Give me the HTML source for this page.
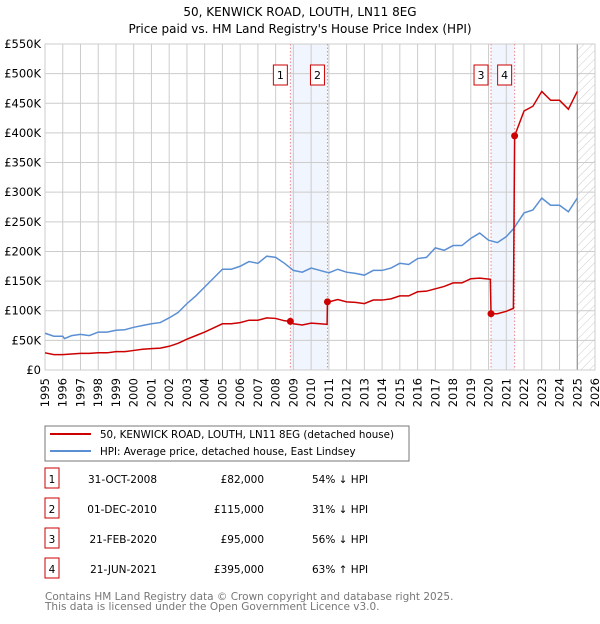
<!DOCTYPE html>
<html><head><meta charset="utf-8"><style>
body{margin:0;background:#fff;font-family:"DejaVu Sans","Liberation Sans",sans-serif;}
svg text{font-family:"DejaVu Sans","Liberation Sans",sans-serif;}
</style></head><body>
<svg id="c" width="600" height="620" xmlns="http://www.w3.org/2000/svg">
<defs><pattern id="h" width="6" height="6" patternUnits="userSpaceOnUse" patternTransform="rotate(45)"><line x1="0" y1="0" x2="0" y2="6" stroke="#ccc" stroke-width="1"/></pattern></defs>
<text x="300" y="16" text-anchor="middle" font-size="12">50, KENWICK ROAD, LOUTH, LN11 8EG</text>
<text x="300" y="33" text-anchor="middle" font-size="12">Price paid vs. HM Land Registry's House Price Index (HPI)</text>
<g id="plot"></g>
<rect x="45" y="426" width="364" height="35" fill="#fff" stroke="#777"/>
<line x1="50" y1="434" x2="91" y2="434" stroke="#cc0000" stroke-width="2"/>
<text x="100" y="438" font-size="10.3">50, KENWICK ROAD, LOUTH, LN11 8EG (detached house)</text>
<line x1="50" y1="451" x2="91" y2="451" stroke="#5b8fd4" stroke-width="2"/>
<text x="100" y="455" font-size="10.3">HPI: Average price, detached house, East Lindsey</text>
<g id="tbl" font-size="10.5"></g>
<text x="45" y="600" font-size="10.5" fill="#777">Contains HM Land Registry data © Crown copyright and database right 2025.</text>
<text x="45" y="610" font-size="10.5" fill="#777">This data is licensed under the Open Government Licence v3.0.</text>
</svg>
<script>
const yTicks=[0,50,100,150,200,250,300,350,400,450,500,550];
const xYears=[1995,1996,1997,1998,1999,2000,2001,2002,2003,2004,2005,2006,2007,2008,2009,2010,2011,2012,2013,2014,2015,2016,2017,2018,2019,2020,2021,2022,2023,2024,2025,2026];
const hpiDates=[1995,1995.5,1996,1996.1,1996.5,1997,1997.5,1998,1998.5,1999,1999.5,2000,2000.5,2001,2001.5,2002,2002.5,2003,2003.5,2004,2004.5,2005,2005.5,2006,2006.5,2007,2007.5,2008,2008.5,2009,2009.5,2010,2010.5,2011,2011.5,2012,2012.5,2013,2013.5,2014,2014.5,2015,2015.5,2016,2016.5,2017,2017.5,2018,2018.5,2019,2019.5,2020,2020.5,2021,2021.4,2022,2022.5,2023,2023.5,2024,2024.5,2025];
const hpiValues=[62,57,57,53,58,60,58,64,64,67,68,72,75,78,80,88,97,112,125,140,155,170,170,175,183,180,192,190,180,168,165,172,168,164,170,165,163,160,168,168,172,180,178,188,190,206,202,210,210,222,231,219,215,225,238,265,270,290,278,278,267,290];
const priceDates=[1995,1995.5,1996,1996.5,1997,1997.5,1998,1998.5,1999,1999.5,2000,2000.5,2001,2001.5,2002,2002.5,2003,2003.5,2004,2004.5,2005,2005.5,2006,2006.5,2007,2007.5,2008,2008.5,2008.83,2009,2009.5,2010,2010.5,2010.9,2010.92,2011,2011.5,2012,2012.5,2013,2013.5,2014,2014.5,2015,2015.5,2016,2016.5,2017,2017.5,2018,2018.5,2019,2019.5,2020.1,2020.14,2020.5,2021,2021.4,2021.47,2022,2022.5,2023,2023.5,2024,2024.5,2025];
const priceValues=[29,26,26,27,28,28,29,29,31,31,33,35,36,37,40,45,52,58,64,71,78,78,80,84,84,88,87,83,82,78,76,79,78,77,115,115,119,115,114,112,118,118,120,125,125,132,133,137,141,147,147,154,155,153,95,95,99,104,395,437,445,470,455,455,440,470];
const saleDates=[2008.83,2010.92,2020.14,2021.47];
const salePrices=[82,115,95,395];
const saleLabels=["1","2","3","4"];
const saleDateText=["31-OCT-2008","01-DEC-2010","21-FEB-2020","21-JUN-2021"];
const salePriceText=["£82,000","£115,000","£95,000","£395,000"];
const saleHpiText=["54% ↓ HPI","31% ↓ HPI","56% ↓ HPI","63% ↑ HPI"];
const X0=45,X1=595,Y0=370,Y1=44;
const xs=d=>X0+(d-1995)/31*(X1-X0);
const ys=v=>Y0-v/550*(Y0-Y1);
const NS="http://www.w3.org/2000/svg";
const plot=document.getElementById('plot');
function mk(tag,attrs,parent){const e=document.createElementNS(NS,tag);for(const k in attrs)e.setAttribute(k,attrs[k]);(parent||plot).appendChild(e);return e;}
for(let i=0;i<4;i+=2){
 const r=mk('rect',{x:xs(saleDates[i]),y:Y1,width:xs(saleDates[i+1])-xs(saleDates[i]),height:Y0-Y1,fill:'#f1f5fd'});
 
 
}
yTicks.forEach(t=>{
 const l=mk('line',{x1:X0,x2:X1,y1:ys(t),y2:ys(t),stroke:'#ccc'});
 
 
 const tx=mk('text',{x:41,y:ys(t)+4,'text-anchor':'end','font-size':11.5});
 
 
 tx.textContent=t===0?'£0':'£'+t+'K';
});
xYears.forEach(y=>{
 const l=mk('line',{x1:xs(y),x2:xs(y),y1:Y1,y2:Y0,stroke:'#ccc'});
 
 
 const tx=mk('text',{x:0,y:0,'text-anchor':'end','font-size':11.5,transform:`translate(${xs(y)+4},${Y0+8}) rotate(-90)`});
 
 
 tx.textContent=y;
});
const hz=mk('rect',{x:xs(2025),y:Y1,width:X1-xs(2025),height:Y0-Y1,fill:'url(#h)'});


const gl=mk('line',{x1:xs(2025),x2:xs(2025),y1:Y1,y2:Y0,stroke:'#888'});


const fr=mk('rect',{x:X0,y:Y1,width:X1-X0,height:Y0-Y1,fill:'none',stroke:'#ccc'});


saleDates.forEach((d,i)=>{
 const l=mk('line',{x1:xs(d),x2:xs(d),y1:Y1,y2:Y0,stroke:'#e88','stroke-dasharray':'1.5,2'});
 
 
 const b=mk('rect',{x:xs(d)-17,y:65,width:14,height:20,fill:'#fff',stroke:'#cc0000'});
 
 
 const t=mk('text',{x:xs(d)-10,y:79,'text-anchor':'middle','font-size':11});
 
 
 t.textContent=saleLabels[i];
});
const hp=mk('polyline',{points:hpiDates.map((d,i)=>xs(d)+','+ys(hpiValues[i])).join(' '),fill:'none',stroke:'#5b8fd4','stroke-width':1.5});


const pp=mk('polyline',{points:priceDates.map((d,i)=>xs(d)+','+ys(priceValues[i])).join(' '),fill:'none',stroke:'#cc0000','stroke-width':1.5});


saleDates.forEach((d,i)=>{
 const c=mk('circle',{cx:xs(d),cy:ys(salePrices[i]),r:3.5,fill:'#cc0000'});
 
 
});
const tbl=document.getElementById('tbl');
saleLabels.forEach((s,i)=>{
 const y=483+i*30;
 const b=mk('rect',{x:45,y:y-15,width:14,height:20,fill:'#fff',stroke:'#cc0000'},tbl);
 
 
 const cols=[[52,'middle',s,'table-label'],[157,'end',saleDateText[i],'table-date'],[264,'end',salePriceText[i],'table-price'],[312,'start',saleHpiText[i],'table-hpi-diff']];
 cols.forEach(c=>{
  const t=mk('text',{x:c[0],y:y,'text-anchor':c[1]},tbl);
  
  
  t.textContent=c[2];
 });
});
</script>
</body></html>
